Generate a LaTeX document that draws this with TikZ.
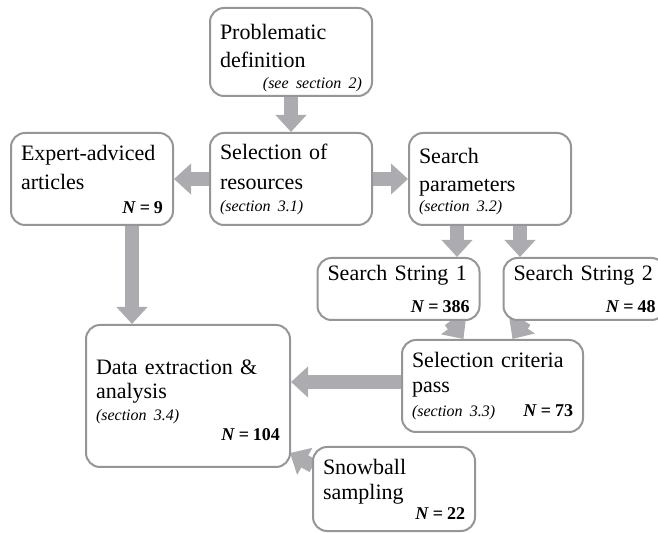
\documentclass[tikz,border=0pt]{standalone}
\usepackage{fontspec}
\setmainfont{Liberation Serif}
\usepackage{xcolor}
\usetikzlibrary{arrows.meta,calc,positioning,backgrounds}
\definecolor{boxgray}{RGB}{150,150,152}
\definecolor{arrowgray}{RGB}{172,172,176}
\setlength{\parindent}{0pt}
\newcommand{\smallpar}[1][11pt]{\par\fontsize{8}{#1}\selectfont}
\newcommand{\sectnote}[1]{{\itshape #1}}
\newcommand{\countN}[1]{{\fontsize{9}{11}\selectfont\bfseries\textit{N}\hspace{0.22em}=\hspace{0.22em}#1}}
\newcommand{\topgap}[1]{\rule{0pt}{#1}}

\begin{document}
\begin{tikzpicture}[x=0.5pt,y=-0.5pt,
  bx/.style={draw=boxgray,line width=1pt,rounded corners=7pt,fill=white,align=left,
    inner xsep=5pt,inner ysep=0pt,text width=#1,font=\fontsize{11}{14}\selectfont},
  bx/.default=71pt,
  fat/.style={draw=arrowgray,line width=7pt,-{Triangle[width=15pt,length=8.5pt]}}]
  \useasboundingbox (0,0) rectangle (658,533);
  \node[bx,minimum height=46pt] (sel) at (291,179) {Selection of\\[1pt]resources\smallpar\sectnote{(section 3.1)}\par};
  \node[bx,minimum height=44pt,above=17.5pt of sel] (prob) {\topgap{13.5pt}Problematic\\definition\smallpar[10.5pt]\hfill\sectnote{(see section 2)}\par};
  \node[bx,minimum height=46pt,left=17.5pt of sel] (expert) {Expert-adviced\\[0.5pt]articles\smallpar[12pt]\hfill\countN{9}\par};
  \node[bx,minimum height=46pt,right=17.5pt of sel] (params) {\topgap{10.5pt}Search\\parameters\smallpar[10pt]\sectnote{(section 3.2)}\par};
  \node[bx,minimum height=31pt] (ss1) at (398.5,289) {Search String 1\smallpar[16pt]\hfill\countN{386}\par};
  \node[bx,minimum height=31pt] (ss2) at (584.5,289) {Search String 2\smallpar[16pt]\hfill\countN{48}\par};
  \node[bx=80.5pt,minimum height=46pt] (crit) at (492.5,386) {Selection criteria\\[-1.5pt]pass\smallpar[12pt]\sectnote{(section 3.3)}\hfill\countN{73}\par};
  \node[bx=92pt,minimum height=71pt] (data) at (188,396) {\topgap{11.5pt}Data extraction \&\\[-2pt]analysis\smallpar\sectnote{(section 3.4)}\smallpar[10pt]\hfill\countN{104}\par};
  \node[bx,minimum height=42pt] (snow) at (394,489) {Snowball\\[-1.5pt]sampling\smallpar[10pt]\hfill\countN{22}\par};
  % fat grey arrows, kept under the boxes
  \begin{scope}[on background layer]
    \draw[fat] (prob) -- (sel);
    \draw[fat] (sel) -- (expert);
    \draw[fat] (sel) -- (params);
    \coordinate (p1) at ($(params.south)+(-33,0)$);
    \coordinate (p2) at ($(params.south)+(30,0)$);
    \draw[fat] (p1) -- (p1 |- ss1.north);
    \draw[fat] (p2) -- (p2 |- ss2.north);
    \draw[fat] ($(ss1.south)+(52,0)$) -- ($(crit.north)+(-29,0)$);
    \draw[fat] ($(ss2.south)+(-60,0)$) -- ($(crit.north)+(20,0)$);
    \coordinate (c1) at ($(crit.west)+(0,-4)$);
    \draw[fat] (c1) -- (c1 -| data.east);
    \coordinate (e1) at ($(expert.south)+(40,0)$);
    \draw[fat] (e1) -- (e1 |- data.north);
    \draw[fat] ($(snow.north west)+(1,20)$) -- ($(data.south east)+(-1,-15)$);
  \end{scope}
\end{tikzpicture}
\end{document}
